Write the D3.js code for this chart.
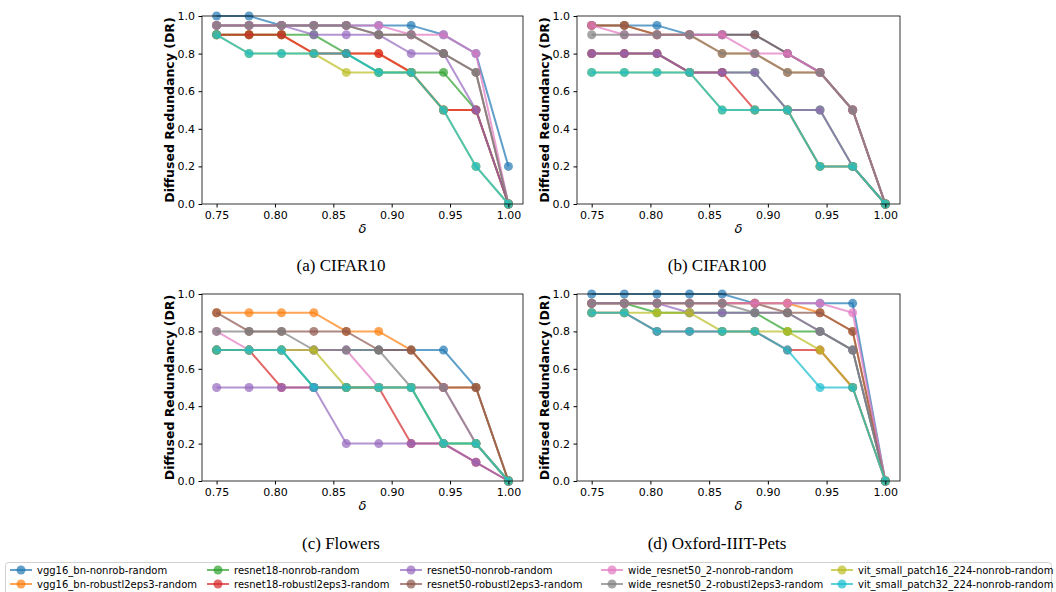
<!DOCTYPE html>
<html>
<head>
<meta charset="utf-8">
<script src="https://cdn.jsdelivr.net/npm/d3@7"></script>
<style>
  body { margin: 0; background: #fff; }
  svg { display: block; }
  .tick text { font-family: "DejaVu Sans", sans-serif; font-size: 11px; fill: #000; }
</style>
</head>
<body>
<div id="chart"></div>
<script>
const W = 1056;
const H = 592;

// delta values on the x axis (10 evenly spaced points)
const DELTA = [0.75, 0.7778, 0.8056, 0.8333, 0.8611, 0.8889, 0.9167, 0.9444, 0.9722, 1.0];
const Y_TICKS = [0.0, 0.2, 0.4, 0.6, 0.8, 1.0];
const X_TICKS = [0.75, 0.80, 0.85, 0.90, 0.95, 1.00];

const MODELS = [
  'vgg16_bn-nonrob-random', 'vgg16_bn-robustl2eps3-random',
  'resnet18-nonrob-random', 'resnet18-robustl2eps3-random',
  'resnet50-nonrob-random', 'resnet50-robustl2eps3-random',
  'wide_resnet50_2-nonrob-random', 'wide_resnet50_2-robustl2eps3-random',
  'vit_small_patch16_224-nonrob-random', 'vit_small_patch32_224-nonrob-random'
];
const COLORS = ['#1f77b4', '#ff7f0e', '#2ca02c', '#d62728', '#9467bd', '#8c564b', '#e377c2', '#7f7f7f', '#bcbd22', '#17becf'];

const CAPTIONS = ['(a) CIFAR10', '(b) CIFAR100', '(c) Flowers', '(d) Oxford-IIIT-Pets'];

// DR per model, same order as MODELS
const CIFAR10_DR = [
  [1.0, 1.0, 0.95, 0.95, 0.95, 0.95, 0.95, 0.9, 0.8, 0.2],
  [0.9, 0.9, 0.9, 0.8, 0.8, 0.8, 0.7, 0.5, 0.5, 0.0],
  [0.9, 0.9, 0.9, 0.9, 0.8, 0.7, 0.7, 0.7, 0.5, 0.0],
  [0.9, 0.9, 0.9, 0.8, 0.8, 0.8, 0.7, 0.5, 0.5, 0.0],
  [0.95, 0.95, 0.95, 0.9, 0.9, 0.9, 0.8, 0.8, 0.5, 0.0],
  [0.95, 0.95, 0.95, 0.95, 0.95, 0.9, 0.9, 0.8, 0.7, 0.0],
  [0.95, 0.95, 0.95, 0.95, 0.95, 0.95, 0.9, 0.9, 0.8, 0.0],
  [0.95, 0.95, 0.95, 0.95, 0.95, 0.9, 0.9, 0.8, 0.7, 0.0],
  [0.9, 0.8, 0.8, 0.8, 0.7, 0.7, 0.7, 0.5, 0.2, 0.0],
  [0.9, 0.8, 0.8, 0.8, 0.8, 0.7, 0.7, 0.5, 0.2, 0.0]
];
const CIFAR100_DR = [
  [0.95, 0.95, 0.95, 0.9, 0.9, 0.9, 0.8, 0.7, 0.5, 0.0],
  [0.95, 0.95, 0.9, 0.9, 0.8, 0.8, 0.7, 0.7, 0.5, 0.0],
  [0.8, 0.8, 0.8, 0.7, 0.7, 0.7, 0.5, 0.5, 0.2, 0.0],
  [0.8, 0.8, 0.8, 0.7, 0.7, 0.5, 0.5, 0.2, 0.2, 0.0],
  [0.8, 0.8, 0.8, 0.7, 0.7, 0.7, 0.5, 0.5, 0.2, 0.0],
  [0.95, 0.95, 0.9, 0.9, 0.9, 0.9, 0.8, 0.7, 0.5, 0.0],
  [0.95, 0.9, 0.9, 0.9, 0.9, 0.8, 0.8, 0.7, 0.5, 0.0],
  [0.9, 0.9, 0.9, 0.9, 0.8, 0.8, 0.7, 0.7, 0.5, 0.0],
  [0.7, 0.7, 0.7, 0.7, 0.5, 0.5, 0.5, 0.2, 0.2, 0.0],
  [0.7, 0.7, 0.7, 0.7, 0.5, 0.5, 0.5, 0.2, 0.2, 0.0]
];
const FLOWERS_DR = [
  [0.7, 0.7, 0.7, 0.7, 0.7, 0.7, 0.7, 0.7, 0.5, 0.0],
  [0.9, 0.9, 0.9, 0.9, 0.8, 0.8, 0.7, 0.5, 0.5, 0.0],
  [0.7, 0.7, 0.7, 0.5, 0.5, 0.5, 0.5, 0.2, 0.2, 0.0],
  [0.7, 0.7, 0.5, 0.5, 0.5, 0.5, 0.2, 0.2, 0.1, 0.0],
  [0.5, 0.5, 0.5, 0.5, 0.2, 0.2, 0.2, 0.2, 0.1, 0.0],
  [0.9, 0.8, 0.8, 0.8, 0.8, 0.7, 0.7, 0.5, 0.5, 0.0],
  [0.8, 0.7, 0.7, 0.7, 0.7, 0.5, 0.5, 0.5, 0.2, 0.0],
  [0.8, 0.8, 0.8, 0.7, 0.7, 0.7, 0.5, 0.5, 0.2, 0.0],
  [0.7, 0.7, 0.7, 0.7, 0.5, 0.5, 0.5, 0.2, 0.2, 0.0],
  [0.7, 0.7, 0.7, 0.5, 0.5, 0.5, 0.5, 0.2, 0.2, 0.0]
];
const PETS_DR = [
  [1.0, 1.0, 1.0, 1.0, 1.0, 0.95, 0.95, 0.95, 0.95, 0.0],
  [0.95, 0.95, 0.95, 0.95, 0.95, 0.95, 0.95, 0.9, 0.8, 0.0],
  [0.95, 0.95, 0.9, 0.9, 0.9, 0.9, 0.8, 0.8, 0.7, 0.0],
  [0.9, 0.9, 0.8, 0.8, 0.8, 0.8, 0.7, 0.7, 0.5, 0.0],
  [0.95, 0.95, 0.95, 0.9, 0.9, 0.9, 0.9, 0.8, 0.7, 0.0],
  [0.95, 0.95, 0.95, 0.95, 0.95, 0.95, 0.9, 0.9, 0.8, 0.0],
  [0.95, 0.95, 0.95, 0.95, 0.95, 0.95, 0.95, 0.95, 0.9, 0.0],
  [0.95, 0.95, 0.95, 0.95, 0.95, 0.9, 0.9, 0.8, 0.7, 0.0],
  [0.9, 0.9, 0.9, 0.9, 0.8, 0.8, 0.8, 0.7, 0.5, 0.0],
  [0.9, 0.9, 0.8, 0.8, 0.8, 0.8, 0.7, 0.5, 0.5, 0.0]
];
const PANEL_DATA = [CIFAR10_DR, CIFAR100_DR, FLOWERS_DR, PETS_DR];

// panel frames in pixels
const PANELS = [
  { left: 202, top: 16, right: 523, bottom: 204, capX: 341, capY: 271 },
  { left: 577, top: 16, right: 900, bottom: 204, capX: 717, capY: 271 },
  { left: 202, top: 294, right: 523, bottom: 481, capX: 341, capY: 549 },
  { left: 577, top: 294, right: 900, bottom: 481, capX: 717, capY: 549 }
];

const svg = d3.select('#chart')
  .append('svg')
  .attr('width', W)
  .attr('height', H);

PANELS.forEach((p, pi) => {
  const data = PANEL_DATA[pi];
  // matplotlib default 5% x margin
  const xScale = d3.scaleLinear()
    .domain([0.7375, 1.0125])
    .range([p.left, p.right]);
  const yScale = d3.scaleLinear()
    .domain([0, 1])
    .range([p.bottom, p.top]);

  const g = svg.append('g');

  // series: line + markers per model
  const line = d3.line()
    .x((d, i) => xScale(DELTA[i]))
    .y(d => yScale(d));

  const clipId = 'clip' + pi;
  svg.append('clipPath').attr('id', clipId)
    .append('rect')
    .attr('x', p.left - 6).attr('y', p.top - 6)
    .attr('width', p.right - p.left + 12).attr('height', p.bottom - p.top + 12);

  const plot = g.append('g').attr('clip-path', `url(#${clipId})`);
  data.forEach((vals, si) => {
    const s = plot.append('g');
    s.append('path')
      .datum(vals)
      .attr('d', line)
      .attr('fill', 'none')
      .attr('stroke', COLORS[si])
      .attr('stroke-width', 2)
      .attr('stroke-opacity', 0.7);
    s.selectAll('circle')
      .data(vals)
      .enter()
      .append('circle')
      .attr('cx', (d, i) => xScale(DELTA[i]))
      .attr('cy', d => yScale(d))
      .attr('r', 4.5)
      .attr('fill', COLORS[si])
      .attr('fill-opacity', 0.7);
  });

  // axes
  const xAxis = d3.axisBottom(xScale)
    .tickValues(X_TICKS)
    .tickFormat(d3.format('.2f'))
    .tickSize(3.5)
    .tickPadding(3.5);
  const yAxis = d3.axisLeft(yScale)
    .tickValues(Y_TICKS)
    .tickFormat(d3.format('.1f'))
    .tickSize(3.5)
    .tickPadding(3.5);

  g.append('g')
    .attr('transform', `translate(0, ${p.bottom})`)
    .call(xAxis)
    .call(a => a.select('.domain').remove());
  g.append('g')
    .attr('transform', `translate(${p.left}, 0)`)
    .call(yAxis)
    .call(a => a.select('.domain').remove());

  // frame
  g.append('rect')
    .attr('x', p.left)
    .attr('y', p.top)
    .attr('width', p.right - p.left)
    .attr('height', p.bottom - p.top)
    .attr('fill', 'none')
    .attr('stroke', '#000')
    .attr('stroke-width', 0.8);

  // axis labels
  g.append('text')
    .attr('x', (p.left + p.right) / 2)
    .attr('y', p.bottom + 29)
    .attr('text-anchor', 'middle')
    .style('font-family', '"DejaVu Sans", sans-serif')
    .style('font-style', 'italic')
    .style('font-size', '13px')
    .text('δ');
  g.append('text')
    .attr('transform', `translate(${p.left - 28}, ${(p.top + p.bottom) / 2}) rotate(-90)`)
    .attr('text-anchor', 'middle')
    .style('font-family', '"DejaVu Sans", sans-serif')
    .style('font-weight', 'bold')
    .style('font-size', '12.5px')
    .text('Diffused Redundancy (DR)');

  // subfigure caption
  svg.append('text')
    .attr('x', p.capX)
    .attr('y', p.capY)
    .attr('text-anchor', 'middle')
    .style('font-family', '"Liberation Serif", "Times New Roman", serif')
    .style('font-size', '17px')
    .text(CAPTIONS[pi]);
});

// legend, two rows, filled column by column
const LEG_COL_X = [10, 207, 400, 601, 831];
const LEG_ROW_Y = [570, 584];
const legend = svg.append('g').attr('id', 'legend');
legend.append('rect')
  .attr('x', 5.5)
  .attr('y', 562.5)
  .attr('width', 1046)
  .attr('height', 40)
  .attr('rx', 3)
  .attr('fill', '#fff')
  .attr('stroke', '#d0d0d0')
  .attr('stroke-width', 1);

MODELS.forEach((m, i) => {
  const x = LEG_COL_X[Math.floor(i / 2)];
  const y = LEG_ROW_Y[i % 2];
  const item = legend.append('g');
  item.append('line')
    .attr('x1', x).attr('x2', x + 22)
    .attr('y1', y).attr('y2', y)
    .attr('stroke', COLORS[i])
    .attr('stroke-width', 2)
    .attr('stroke-opacity', 0.7);
  item.append('circle')
    .attr('cx', x + 11).attr('cy', y)
    .attr('r', 4.5)
    .attr('fill', COLORS[i])
    .attr('fill-opacity', 0.7);
  item.append('text')
    .attr('x', x + 27)
    .attr('y', y + 3.5)
    .style('font-family', '"DejaVu Sans", sans-serif')
    .style('font-size', '10px')
    .text(m);
});
</script>
</body>
</html>
